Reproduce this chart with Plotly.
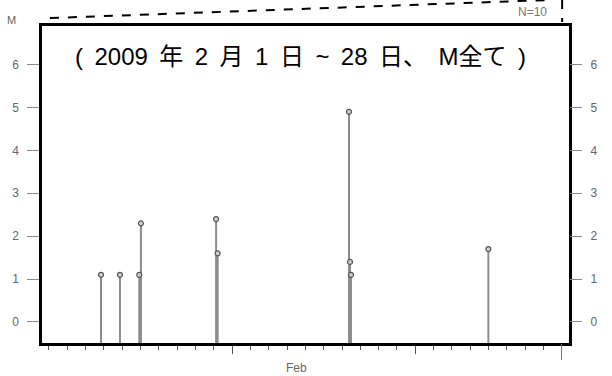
import plotly.graph_objects as go

# Data: earthquake events (Feb 2009), magnitude M
event_times = ["2009-02-03 20:10", "2009-02-04 21:00", "2009-02-05 22:20", "2009-02-06 00:30",
               "2009-02-10 03:00", "2009-02-10 05:00", "2009-02-17 09:10", "2009-02-17 10:30",
               "2009-02-17 11:50", "2009-02-24 23:50"]
magnitudes = [1.1, 1.1, 1.1, 2.3, 2.4, 1.6, 4.9, 1.4, 1.1, 1.7]
y_ticks = [0, 1, 2, 3, 4, 5, 6]
y_range = [-0.49, 6.90]
x_range = ["2009-01-31 14:50", "2009-03-01 09:30"]
major_ticks = ["2009-02-11", "2009-02-21"]
month_end_tick = ["2009-03-01"]
title_text = "( 2009 年 2 月 1 日 ~ 28 日、 M全て )"
count_text = "N=10"

stem_minus = [m - y_range[0] for m in magnitudes]

fig = go.Figure()
fig.add_trace(go.Scatter(
    x=event_times, y=magnitudes, mode="markers",
    marker=dict(symbol="circle", size=5, color="#d0d0d0",
                line=dict(color="#555555", width=1.2)),
    error_y=dict(type="data", symmetric=False, array=[0] * len(magnitudes),
                 arrayminus=stem_minus, color="#8c8c8c", thickness=2, width=0),
    showlegend=False, hoverinfo="skip"))
# invisible trace to activate right axis
fig.add_trace(go.Scatter(x=event_times[:1], y=magnitudes[:1], yaxis="y2", xaxis="x2",
                         mode="markers", marker=dict(opacity=0), showlegend=False,
                         hoverinfo="skip"))

font_tick = dict(family="Liberation Sans, Arial, sans-serif", size=12, color="#666666")

fig.update_layout(
    width=612, height=376,
    margin=dict(l=42, r=43, t=26, b=33),
    paper_bgcolor="white", plot_bgcolor="white",
    xaxis=dict(type="date", range=x_range, showgrid=False, zeroline=False,
               showline=True, linecolor="black", linewidth=2.5, mirror=True,
               tickmode="array", tickvals=major_ticks, ticktext=["", ""],
               ticks="outside", ticklen=8, tickcolor="#555555", tickwidth=1,
               minor=dict(ticks="outside", ticklen=4, tickcolor="#555555",
                          tickwidth=1, dtick=86400000, tick0="2009-02-01",
                          showgrid=False)),
    xaxis2=dict(type="date", range=x_range, overlaying="x", side="bottom",
                showgrid=False, zeroline=False, showline=False,
                tickmode="array", tickvals=month_end_tick, ticktext=[""],
                ticks="outside", ticklen=16, tickcolor="#777777", tickwidth=1.2),
    yaxis=dict(range=y_range, showgrid=False, zeroline=False,
               showline=True, linecolor="black", linewidth=2.5, mirror=True,
               tickmode="array", tickvals=y_ticks, ticks="outside", ticklen=12,
               tickcolor="#888888", tickwidth=1.2, tickfont=font_tick,
               ticklabelstandoff=6),
    yaxis2=dict(range=y_range, overlaying="y", side="right", showgrid=False,
                zeroline=False, showline=False, tickmode="array", tickvals=y_ticks,
                ticks="outside", ticklen=12, tickcolor="#888888", tickwidth=1.2,
                tickfont=font_tick, ticklabelstandoff=6),
)

fig.add_annotation(x="2009-02-14 12:00", y=-0.05, xref="x", yref="paper",
                   yanchor="top", text="Feb", showarrow=False, font=font_tick)
fig.add_annotation(x=-0.057, y=1.019, xref="paper", yref="paper", xanchor="center",
                   yanchor="middle", text="M", showarrow=False,
                   font=dict(family="Liberation Sans, Arial, sans-serif", size=11,
                             color="#666666"))
fig.add_annotation(x=0.962, y=1.044, xref="paper", yref="paper", xanchor="right",
                   yanchor="middle", text=count_text, showarrow=False,
                   font=dict(family="Liberation Sans, Arial, sans-serif", size=12,
                             color="#777777"))
# slightly wider spacing between words, as in the reference
fig.add_annotation(x=0.49, y=0.905, xref="paper", yref="paper", xanchor="center",
                   yanchor="middle", text=title_text.replace(" ", "\u00a0\u2009"),
                   showarrow=False,
                   font=dict(family="Liberation Sans, Noto Sans CJK JP, sans-serif",
                             size=24, color="black"))

# dashed callout lines
fig.add_shape(type="line", xref="paper", yref="paper", x0=0.015, y0=1.025,
              x1=0.96, y1=1.082, line=dict(color="black", width=2, dash="dash"))
fig.add_shape(type="line", xref="paper", yref="paper", x0=0.987, y0=1.082,
              x1=0.987, y1=1.0126, line=dict(color="black", width=2, dash="dash"))

fig.write_html("out.html")
